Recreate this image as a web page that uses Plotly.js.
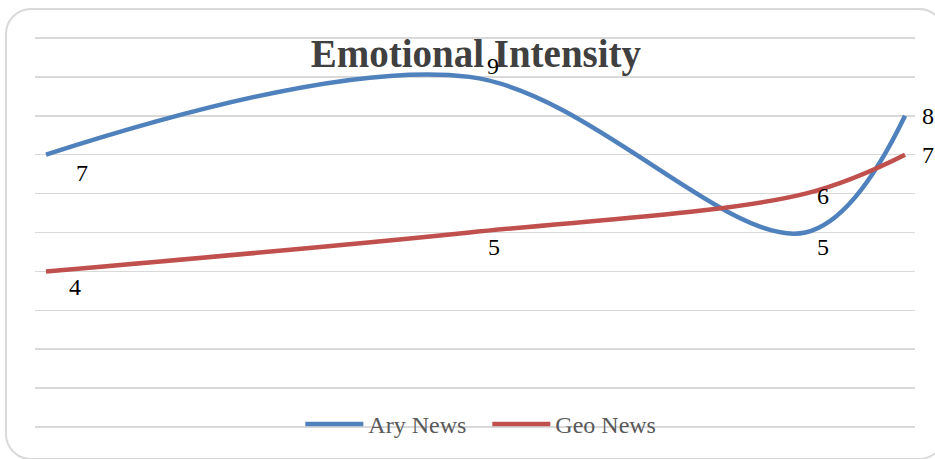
<!DOCTYPE html>
<html>
<head>
<meta charset="utf-8">
<script src="https://cdn.plot.ly/plotly-3.0.1.min.js"></script>
<style>
  html, body { margin: 0; padding: 0; background: #ffffff; }
  #wrap { position: relative; width: 935px; height: 459px; overflow: hidden; }
  #chart { position: absolute; left: 0; top: 0; width: 935px; height: 459px; }
  #frame { position: absolute; left: 5px; top: 8px; width: 940px; height: 452px;
           border: 2px solid #d9d9d9; border-radius: 26px; box-sizing: border-box; pointer-events: none; }
</style>
</head>
<body>
<div id="wrap">
  <div id="chart"></div>
  <div id="frame"></div>
</div>
<script>
// ---- data ----
const xValues = [0, 49.3, 88.4, 100];
const aryNews = [7, 9, 5, 8];
const geoNews = [4, 5, 6, 7];
const seriesNames = ['Ary News', 'Geo News'];
const chartTitle = 'Emotional Intensity';

// ---- styles ----
const colors = ['#4f81bd', '#c0504d'];
const labelShiftAry = [[36, -18], [23, 11], [18, -14], [23, 0]];
const labelShiftGeo = [[29, -16], [24, -14], [18, -2], [23, 0]];

const traces = [aryNews, geoNews].map((vals, i) => ({
  type: 'scatter',
  mode: 'lines',
  name: seriesNames[i],
  x: xValues,
  y: vals,
  line: { color: colors[i], width: 4.5, shape: 'spline', smoothing: 1 },
  hoverinfo: 'skip'
}));

const annotations = [];
[[aryNews, labelShiftAry], [geoNews, labelShiftGeo]].forEach(([vals, shifts]) => {
  vals.forEach((v, j) => {
    annotations.push({
      x: xValues[j], y: v, xref: 'x', yref: 'y',
      text: String(v), showarrow: false,
      xshift: shifts[j][0], yshift: shifts[j][1],
      font: { family: 'Liberation Serif, serif', size: 24, color: '#000000' }
    });
  });
});

const layout = {
  width: 935, height: 459,
  paper_bgcolor: 'rgba(0,0,0,0)', plot_bgcolor: 'rgba(0,0,0,0)',
  margin: { l: 35, r: 20, t: 36, b: 22 },
  title: {
    text: '<b>' + chartTitle + '</b>',
    font: { family: 'Liberation Serif, serif', size: 39, color: '#404040' },
    x: 0.501, xanchor: 'center', xref: 'paper',
    y: 1 - 53 / 459, yanchor: 'middle', yref: 'container'
  },
  xaxis: {
    range: [-1.28, 101.16], showgrid: false, zeroline: false,
    showticklabels: false, showline: false, ticks: ''
  },
  yaxis: {
    range: [-0.05, 10.05], dtick: 1, tick0: 0, showgrid: true, gridcolor: '#d9d9d9', gridwidth: 1.5,
    zeroline: false, showticklabels: false, showline: false, ticks: ''
  },
  showlegend: true,
  legend: {
    orientation: 'h', x: 0.514, xanchor: 'center', y: 0.012, yanchor: 'middle',
    font: { family: 'Liberation Serif, serif', size: 24, color: '#595959' },
    bgcolor: 'rgba(0,0,0,0)', itemwidth: 58, tracegroupgap: 0,
    entrywidth: 114, entrywidthmode: 'pixels'
  },
  annotations: annotations
};

Plotly.newPlot('chart', traces, layout, { displayModeBar: false, staticPlot: true });
</script>
</body>
</html>
